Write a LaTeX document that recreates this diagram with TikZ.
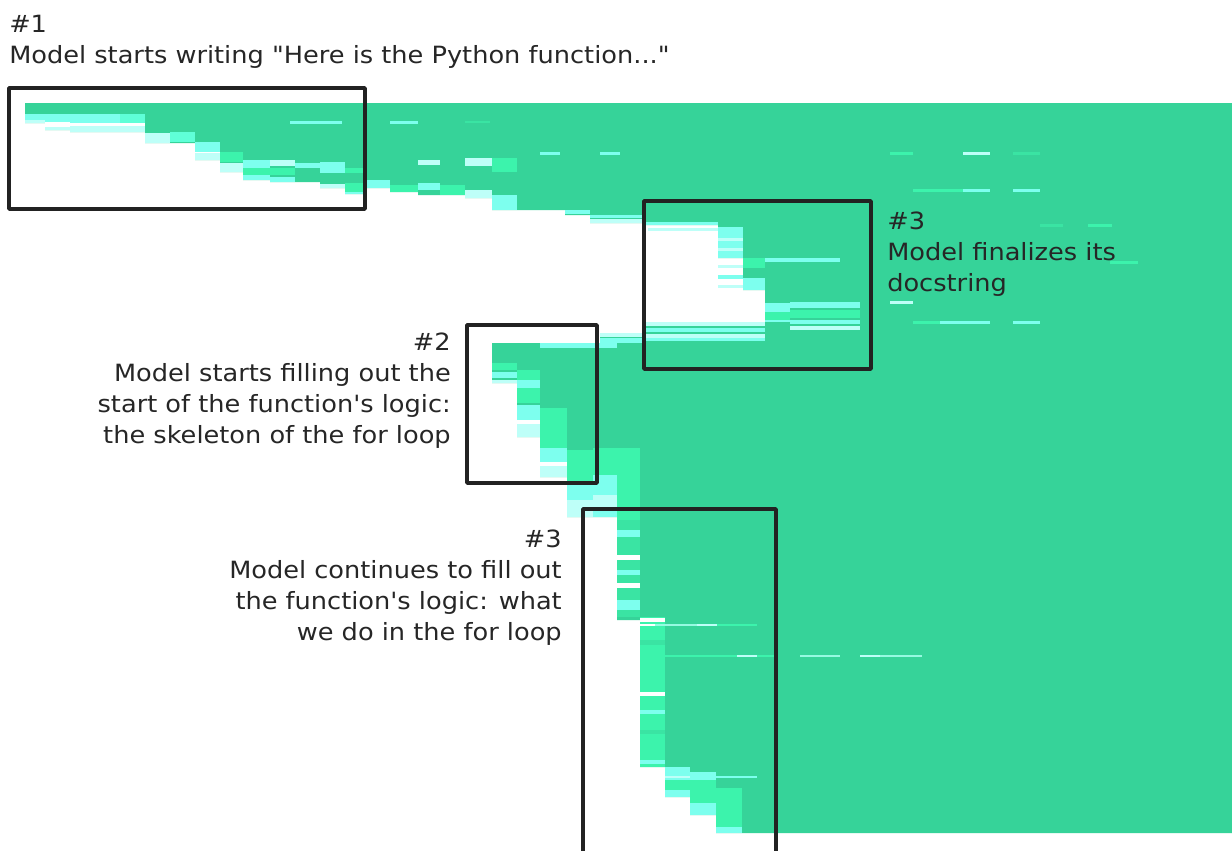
\documentclass[tikz,border=0pt]{standalone}
\usepackage{fontspec}
\setmainfont{DejaVu Sans}[Ligatures=TeXOff, FakeStretch=1.08]
\definecolor{hmG}{RGB}{54,211,153}
\definecolor{hmB}{RGB}{60,243,172}
\definecolor{hmM}{RGB}{58,228,163}
\definecolor{hmC}{RGB}{125,255,238}
\definecolor{hmT}{RGB}{95,255,215}
\definecolor{hmL}{RGB}{190,255,248}
\definecolor{hmP}{RGB}{150,250,225}
\definecolor{hmW}{RGB}{255,255,255}
\definecolor{txt}{RGB}{38,38,38}
\definecolor{boxc}{RGB}{34,34,34}
\tikzset{
  lbl/.style={font=\fontsize{17.8}{23}\selectfont, text=txt, inner sep=0pt},
  hbox/.style={draw=boxc, line width=2.7pt, line join=round}
}
\begin{document}
\begin{tikzpicture}[x=0.75pt,y=-0.75pt]
\fill[white] (0,0) rectangle (1232,850);
\useasboundingbox (0,0) rectangle (1232,850);

% main green region
\fill[hmG] (25,103) -- (1232,103) -- (1232,833) -- (742,833) -- (716,833) -- (716,815) -- (690,815) -- (690,797)
  -- (665,797) -- (665,767) -- (640,767) -- (640,620) -- (617,620) -- (617,517) -- (567,517) -- (567,477)
  -- (540,477) -- (540,437) -- (517,437) -- (517,383) -- (492,383) -- (492,343) -- (600,343) -- (600,333)
  -- (645,333) -- (645,322) -- (765,322) -- (765,290) -- (743,290) -- (743,258) -- (718,258) -- (718,225)
  -- (645,225) -- (645,223) -- (590,223) -- (590,215) -- (565,215) -- (565,210) -- (492,210) -- (492,198)
  -- (465,198) -- (465,195) -- (418,195) -- (418,192) -- (390,192) -- (390,188) -- (365,188) -- (365,194)
  -- (345,194) -- (345,188) -- (320,188) -- (320,182) -- (270,182) -- (270,180) -- (243,180) -- (243,172)
  -- (220,172) -- (220,160) -- (195,160) -- (195,143) -- (145,143) -- (145,132) -- (70,132) -- (70,130)
  -- (45,130) -- (45,123) -- (25,123) -- cycle;

% transition strips
\foreach \xa/\ya/\xb/\yb/\col in {
  25/114/45/120/hmC, 25/120/45/123/hmL,
  45/114/70/122/hmC, 45/122/70/127/hmW, 45/127/70/130/hmL,
  70/114/120/123/hmC, 120/114/145/123/hmT, 70/123/145/126/hmW, 70/126/145/132/hmL,
  145/133/170/143/hmL, 170/132/195/142/hmT,
  195/142/220/152/hmC, 195/152/220/153/hmW, 195/153/220/160/hmL,
  220/152/243/162/hmB, 220/163/243/172/hmL,
  243/160/270/168/hmC, 243/168/270/175/hmB, 243/175/270/180/hmC,
  270/160/295/166/hmL, 270/168/295/175/hmB, 270/177/295/182/hmC,
  295/163/320/168/hmC,
  320/162/345/173/hmC, 320/184/345/188/hmL,
  345/168/365/173/hmB, 345/183/365/192/hmB, 345/192/365/194/hmC,
  365/180/390/188/hmC,
  390/185/418/192/hmB,
  418/183/440/190/hmC, 418/160/440/165/hmL,
  440/185/465/195/hmB,
  465/190/492/198/hmL, 465/158/492/166/hmL,
  492/158/517/172/hmB, 492/195/517/210/hmC,
  565/210/590/214/hmC,
  590/215/645/218/hmC, 590/219/645/223/hmL,
  645/222/718/225/hmC, 648/228/718/231/hmL,
  718/227/743/258/hmC, 718/238/743/241/hmL, 718/248/743/251/hmL,
  718/265/743/268/hmL, 718/275/743/279/hmC, 718/285/743/288/hmL,
  743/258/765/268/hmB, 743/278/765/290/hmC,
  765/303/790/312/hmC, 765/312/790/320/hmB, 765/320/790/322/hmC,
  765/258/840/262/hmC,
  790/302/860/308/hmC, 790/310/860/318/hmB, 790/320/860/324/hmC, 790/326/860/330/hmL,
  645/322/765/326/hmL, 645/328/765/332/hmC, 645/334/765/338/hmL, 645/338/765/341/hmC,
  600/333/645/337/hmL, 600/338/645/343/hmC,
  540/343/617/348/hmC,
  492/363/517/370/hmB, 492/372/517/378/hmC, 492/380/517/383/hmL,
  517/370/540/380/hmB, 517/380/540/388/hmC, 517/388/540/403/hmB,
  517/405/540/420/hmC, 517/420/540/424/hmW, 517/424/540/437/hmL,
  540/408/567/448/hmB, 540/448/567/462/hmC, 540/462/567/466/hmW, 540/466/567/477/hmL,
  567/450/593/483/hmB, 567/483/593/500/hmC, 567/500/593/517/hmL,
  593/448/617/475/hmB, 593/475/617/495/hmC, 593/495/617/510/hmL, 593/510/617/517/hmC,
  617/448/640/520/hmB, 617/520/640/617/hmM,
  617/530/640/537/hmC, 617/555/640/560/hmW, 617/570/640/575/hmC,
  617/583/640/588/hmW, 617/600/640/610/hmC,
  640/617/665/767/hmB,
  640/618/665/622/hmW, 640/640/665/645/hmM, 640/692/665/696/hmW,
  640/710/665/714/hmC, 640/730/665/734/hmM, 640/760/665/764/hmC,
  665/767/690/780/hmC, 665/780/690/790/hmB, 665/790/690/797/hmC,
  690/772/716/780/hmC, 690/780/716/803/hmB, 690/803/716/815/hmC,
  716/788/742/827/hmB, 716/827/742/833/hmC,
  640/624/655/626/hmW, 655/624/697/626/hmP, 697/624/717/626/hmL, 717/624/757/626/hmB,
  640/655/737/657/hmB, 737/655/757/657/hmL, 757/655/777/657/hmB, 800/655/840/657/hmP,
  860/655/880/657/hmL, 880/655/922/657/hmP,
  665/776/690/778/hmL, 690/776/757/778/hmC,
  290/121/342/124/hmC, 390/121/418/124/hmC, 465/121/490/123/hmM,
  540/152/560/155/hmC, 600/152/620/155/hmC,
  890/152/913/155/hmB, 963/152/990/155/hmL, 1013/152/1040/155/hmM,
  913/189/990/192/hmB, 963/189/990/192/hmC, 1013/189/1040/192/hmC,
  1040/224/1063/227/hmM, 1088/224/1112/227/hmB,
  1110/261/1138/264/hmB,
  890/301/913/304/hmL,
  913/321/990/324/hmB, 940/321/990/324/hmC, 1013/321/1040/324/hmC} {\fill[\col] (\xa,\ya) rectangle (\xb,\yb);}

% highlight boxes
\draw[hbox] (9,88) rectangle (365,209);
\draw[hbox] (644,201) rectangle (871,369);
\draw[hbox] (467,325) rectangle (597,483);
\coordinate (b4a) at (583,856);
\coordinate (b4b) at (776,856);
\draw[hbox] (b4a) -- (583,509) -- (776,509) -- (b4b);

% labels
\node[lbl, anchor=base west] (t1a) at (9,32) {\#1};
\node[lbl, anchor=base west] (t1b) at (9,63) {Model starts writing "Here is the Python function..."};

\node[lbl, anchor=base west] (t3a) at (887,229) {\#3};
\node[lbl, anchor=base west] (t3b) at (887,260) {Model finalizes its};
\node[lbl, anchor=base west] (t3c) at (887,291) {docstring};

\node[lbl, anchor=base east] (t2a) at (451,350) {\#2};
\node[lbl, anchor=base east] (t2b) at (451,381) {Model starts filling out the};
\node[lbl, anchor=base east] (t2c) at (451,412) {start of the function's logic:};
\node[lbl, anchor=base east] (t2d) at (451,443) {the skeleton of the for loop};

\node[lbl, anchor=base east] (t4a) at (562,547) {\#3};
\node[lbl, anchor=base east] (t4b) at (562,578) {Model continues to fill out};
\node[lbl, anchor=base east] (t4c) at (562,609) {the function's logic: what};
\node[lbl, anchor=base east] (t4d) at (562,640) {we do in the for loop};
\end{tikzpicture}
\end{document}
